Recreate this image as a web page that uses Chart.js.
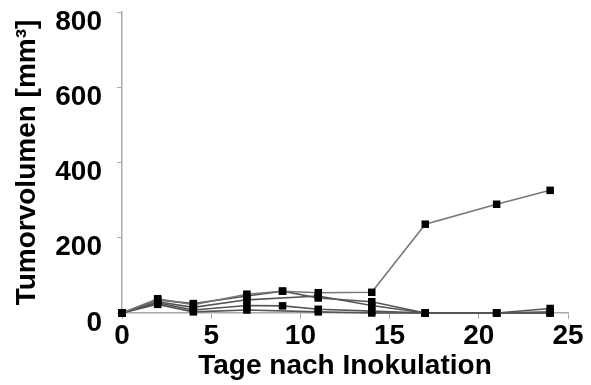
<!DOCTYPE html>
<html>
<head>
<meta charset="utf-8">
<script src="https://cdn.jsdelivr.net/npm/chart.js@4"></script>
<style>
html,body{margin:0;padding:0;background:#fff;}
#wrap{width:591px;height:385px;}
</style>
</head>
<body>
<div id="wrap"><canvas id="c" width="591" height="385"></canvas></div>
<script>
const days = [0, 2, 4, 7, 9, 11, 14, 17, 21, 24];
const mouseA = [0, 38, 22, 50, 58, 54, 55, 236, 289, 326];
const mouseB = [0, 35, 25, 45, 58, 40, 30, 0, 0, 12];
const mouseC = [0, 30, 15, 35, null, 45, 20, 0, 0, 3];
const mouseD = [0, 27, 8, 20, 19, 10, 5, 0, 0, 0];
const mouseE = [0, 23, 3, 8, null, 3, 0, 0, 0, 0];
const seriesList = [mouseA, mouseB, mouseC, mouseD, mouseE];
const yTicks = [0, 200, 400, 600, 800];
const xTicks = [0, 5, 10, 15, 20, 25];

const FONT = '"Liberation Sans", Arial, sans-serif';

const datasets = seriesList.map((s, i) => ({
  label: 'Maus ' + (i + 1),
  data: days.map((d, j) => ({x: d, y: s[j]})),
  borderColor: i === 0 ? '#777' : '#555',
  borderWidth: 1.6,
  pointStyle: 'rect',
  pointRadius: 5.3,
  pointBackgroundColor: '#000',
  pointBorderColor: '#000',
  pointBorderWidth: 0,
  spanGaps: true,
  clip: false,
  tension: 0
}));

new Chart(document.getElementById('c'), {
  type: 'line',
  data: {datasets},
  options: {
    responsive: false,
    animation: false,
    devicePixelRatio: 1,
    layout: {padding: {top: 12, right: 23, left: 0, bottom: 0}},
    plugins: {legend: {display: false}, tooltip: {enabled: false}},
    scales: {
      x: {
        type: 'linear',
        min: 0, max: 25,
        afterBuildTicks: s => { s.ticks = xTicks.map(v => ({value: v})); },
        afterFit: s => { s.height = 72; s.paddingLeft = 0; s.paddingRight = 0; },
        border: {display: true, color: '#aaa', width: 1.5},
        grid: {display: true, drawOnChartArea: false, drawTicks: true, tickLength: 6, color: '#aaa'},
        ticks: {color: '#000', font: {family: FONT, size: 28, weight: 'bold'}, padding: 0, maxRotation: 0},
        title: {display: true, text: 'Tage nach Inokulation', color: '#000',
                font: {family: FONT, size: 28, weight: 'bold'}, padding: {top: 0, bottom: 2}}
      },
      y: {
        min: 0, max: 800,
        afterBuildTicks: s => { s.ticks = yTicks.map(v => ({value: v})); },
        afterFit: s => { s.width = 122; s.paddingTop = 0; s.paddingBottom = 0; },
        border: {display: true, color: '#aaa', width: 1.5},
        grid: {display: true, drawOnChartArea: false, drawTicks: true, tickLength: 5, color: '#aaa'},
        ticks: {color: '#000', font: {family: FONT, size: 28, weight: 'bold'}, padding: 15, labelOffset: 10},
        title: {display: true, text: 'Tumorvolumen [mm³]', color: '#000',
                font: {family: FONT, size: 28, weight: 'bold'}, padding: {top: 10, bottom: 0}}
      }
    }
  }
});
</script>
</body>
</html>
